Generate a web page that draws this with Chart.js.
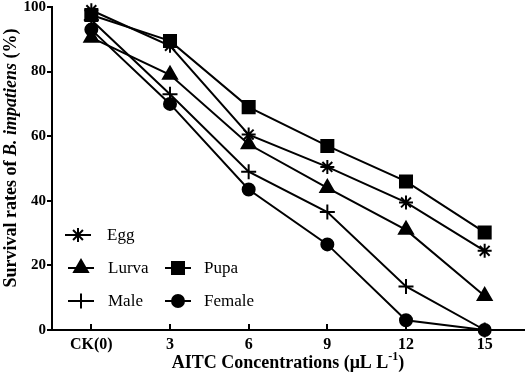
<!DOCTYPE html>
<html>
<head>
<meta charset="utf-8">
<script src="https://cdn.jsdelivr.net/npm/chart.js@4"></script>
<style>
  html, body { margin: 0; padding: 0; background: #fff; }
  #wrap { width: 526px; height: 379px; }
</style>
</head>
<body>
<div id="wrap"><canvas id="survivalChart"></canvas></div>
<script>
const concentrations = ['CK(0)', '3', '6', '9', '12', '15'];
const yTicks = [0, 20, 40, 60, 80, 100];

const egg = [99, 88, 60.5, 50.5, 39.5, 24.5];
const lurva = [90.5, 79, 57.5, 44, 31, 10.5];
const pupa = [97.5, 89.5, 69, 57, 46, 30.2];
const male = [96, 73, 49, 36.5, 13.5, 0];
const female = [93, 70, 43.5, 26.5, 3, 0];

const serif = '"Liberation Serif", "Times New Roman", serif';

function series(label, data, style, radius) {
  return {
    label: label,
    data: data,
    borderColor: '#000',
    backgroundColor: '#000',
    borderWidth: 2,
    pointStyle: style,
    pointRadius: radius,
    pointHoverRadius: radius,
    pointBorderWidth: 2,
    pointBackgroundColor: '#000',
    pointBorderColor: '#000',
    tension: 0,
    clip: false
  };
}

// legend slots: dataset index, marker centre x, row y, text x
const legendSlots = [
  { ds: 0, x: 78, y: 235, tx: 107 },
  { ds: 1, x: 81, y: 268, tx: 108 },
  { ds: 2, x: 178, y: 268, tx: 204 },
  { ds: 3, x: 81, y: 301, tx: 108 },
  { ds: 4, x: 178, y: 301, tx: 204 }
];

const extras = {
  id: 'extras',
  afterDraw(c) {
    const ctx = c.ctx;
    const xs = c.scales.x;
    const area = c.chartArea;
    ctx.save();
    ctx.strokeStyle = '#000';
    ctx.fillStyle = '#000';

    // inward tick marks on x axis
    ctx.lineWidth = 2;
    concentrations.forEach((_, i) => {
      const px = Math.round(xs.getPixelForValue(i));
      ctx.beginPath();
      ctx.moveTo(px, area.bottom);
      ctx.lineTo(px, area.bottom - 6);
      ctx.stroke();
    });

    // legend
    legendSlots.forEach(s => {
      const d = c.data.datasets[s.ds];
      ctx.lineWidth = 2;
      ctx.beginPath();
      ctx.moveTo(s.x - 13, s.y);
      ctx.lineTo(s.x + 13, s.y);
      ctx.stroke();
      Chart.helpers.drawPoint(ctx, {
        pointStyle: d.pointStyle, radius: d.pointRadius, rotation: 0, borderWidth: 2
      }, s.x, s.y);
      ctx.font = '17px ' + serif;
      ctx.textBaseline = 'middle';
      ctx.textAlign = 'left';
      ctx.fillText(d.label, s.tx, s.y + 1);
    });

    // x title with superscript
    const main = 'AITC Concentrations (\u03bcL L';
    ctx.textBaseline = 'alphabetic';
    ctx.font = 'bold 18px ' + serif;
    const w1 = ctx.measureText(main).width;
    ctx.font = 'bold 12px ' + serif;
    const w2 = ctx.measureText('-1').width;
    ctx.font = 'bold 18px ' + serif;
    const w3 = ctx.measureText(')').width;
    let x0 = 288 - (w1 + w2 + w3) / 2;
    const base = 368;
    ctx.fillText(main, x0, base);
    ctx.font = 'bold 12px ' + serif;
    ctx.fillText('-1', x0 + w1, base - 8);
    ctx.font = 'bold 18px ' + serif;
    ctx.fillText(')', x0 + w1 + w2, base);

    // y title, mixed italic
    const parts = [
      ['bold 18px ' + serif, 'Survival rates of '],
      ['italic bold 18px ' + serif, 'B. impatiens'],
      ['bold 18px ' + serif, ' (%)']
    ];
    let total = 0;
    parts.forEach(p => { ctx.font = p[0]; total += ctx.measureText(p[1]).width; });
    ctx.translate(16, 158);
    ctx.rotate(-Math.PI / 2);
    let cx = -total / 2;
    parts.forEach(p => {
      ctx.font = p[0];
      ctx.fillText(p[1], cx, 0);
      cx += ctx.measureText(p[1]).width;
    });
    ctx.restore();
  }
};

new Chart(document.getElementById('survivalChart'), {
  type: 'line',
  data: {
    labels: concentrations,
    datasets: [
      series('Egg', egg, 'star', 7),
      series('Lurva', lurva, 'triangle', 8),
      series('Pupa', pupa, 'rect', 8.5),
      series('Male', male, 'cross', 7.5),
      series('Female', female, 'circle', 6)
    ]
  },
  options: {
    responsive: true,
    maintainAspectRatio: false,
    animation: false,
    events: [],
    layout: { autoPadding: false, padding: { top: 7, right: 2, left: 0, bottom: 0 } },
    plugins: {
      legend: { display: false },
      tooltip: { enabled: false }
    },
    scales: {
      x: {
        type: 'category',
        offset: true,
        grid: { display: false },
        border: { display: true, color: '#000', width: 2 },
        ticks: {
          color: '#000',
          padding: -3,
          maxRotation: 0,
          font: { family: serif, size: 16, weight: 'bold' }
        },
        afterFit(s) { s.height = 49; s.paddingLeft = 0; s.paddingRight = 0; }
      },
      y: {
        min: 0,
        max: 100,
        afterBuildTicks(s) { s.ticks = yTicks.map(v => ({ value: v })); },
        grid: { drawOnChartArea: false, drawTicks: true, tickLength: 5, color: '#000', lineWidth: 2 },
        border: { display: true, color: '#000', width: 2 },
        ticks: {
          color: '#000',
          padding: 1,
          font: { family: serif, size: 15, weight: 'bold' }
        },
        afterFit(s) { s.width = 52; s.paddingTop = 0; s.paddingBottom = 0; }
      }
    }
  },
  plugins: [extras]
});
</script>
</body>
</html>
